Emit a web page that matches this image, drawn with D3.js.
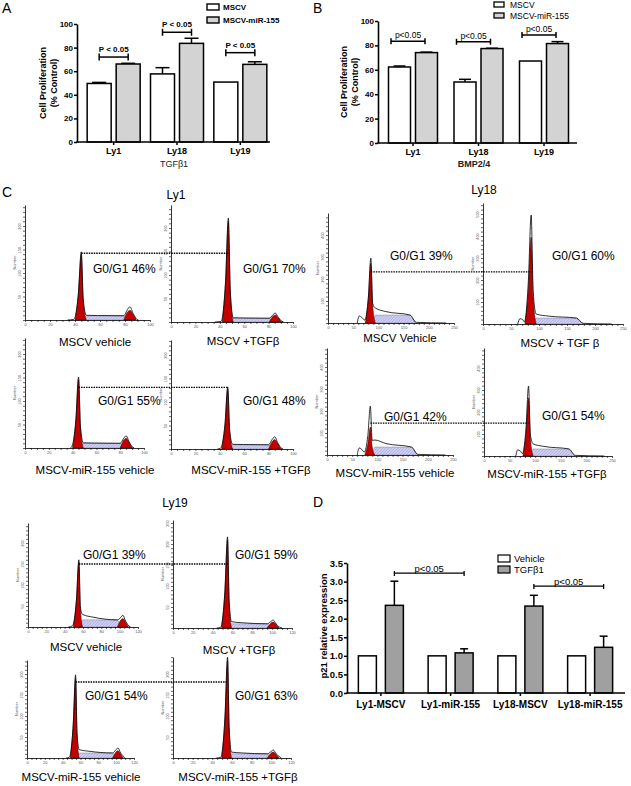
<!DOCTYPE html>
<html><head><meta charset="utf-8">
<script src="https://cdn.jsdelivr.net/npm/d3@7"></script>
<style>
body{margin:0;background:#fff;}
svg{display:block;font-family:"Liberation Sans",Arial,Helvetica,sans-serif;}
</style></head><body>
<svg id="fig" width="631" height="786"></svg>
<script>
// ================= DATA =================
// Panel A (TGFβ1)
const aCategories = ["Ly1", "Ly18", "Ly19"];
const aMSCV = [49.6, 57.7, 50.8];
const aMSCVErr = [0.9, 5.3, 0];
const aMiR = [66.1, 83.6, 65.8];
const aMiRErr = [0.6, 4.3, 2.2];
const aTicks = [0, 20, 40, 60, 80, 100];
const aSigLevel = [72, 93, 75.7];
const aSigText = ["P < 0.05", "P < 0.05", "P < 0.05"];
const aLegend = ["MSCV", "MSCV-miR-155"];
const aXTitle = "TGFβ1";
const abYTitle = ["Cell Proliferation", "(% Control)"];

// Panel B (BMP2/4)
const bCategories = ["Ly1", "Ly18", "Ly19"];
const bMSCV = [62.3, 50.0, 67.2];
const bMSCVErr = [0.8, 2.2, 0];
const bMiR = [74.1, 77.4, 81.5];
const bMiRErr = [0.4, 0.3, 1.6];
const bTicks = [0, 20, 40, 60, 80, 100];
const bSigLevel = [83.4, 83, 88.5];
const bSigText = ["p<0.05", "p<0.05", "p<0.05"];
const bLegend = ["MSCV", "MSCV-miR-155"];
const bXTitle = "BMP2/4";

// Panel D (p21)
const dCategories = ["Ly1-MSCV", "Ly1-miR-155", "Ly18-MSCV", "Ly18-miR-155"];
const dVehicle = [1, 1, 1, 1];
const dVehicleErr = [0, 0, 0, 0];
const dTGF = [2.36, 1.08, 2.34, 1.23];
const dTGFErr = [0.65, 0.11, 0.29, 0.30];
const dTicks = [0, 0.5, 1, 1.5, 2, 2.5, 3, 3.5];
const dSigPairs = [[0, 1], [2, 3]];
const dSigLevel = [3.23, 2.88];
const dSigText = ["p<0.05", "p<0.05"];
const dLegend = ["Vehicle", "TGFβ1"];
const dYTitle = "p21 relative expression";

// Panel C (cell-cycle histograms)
const cLines = ["Ly1", "Ly18", "Ly19"];
const histLine = ["Ly1","Ly1","Ly1","Ly1","Ly18","Ly18","Ly18","Ly18","Ly19","Ly19","Ly19","Ly19"];
const histCaption = ["MSCV vehicle","MSCV +TGFβ","MSCV-miR-155 vehicle","MSCV-miR-155 +TGFβ",
  "MSCV Vehicle","MSCV + TGF β","MSCV-miR-155 vehicle","MSCV-miR-155 +TGFβ",
  "MSCV vehicle","MSCV +TGFβ","MSCV-miR-155 vehicle","MSCV-miR-155 +TGFβ"];
const histG1Text = ["G0/G1 46%","G0/G1 70%","G0/G1 55%","G0/G1 48%",
  "G0/G1 39%","G0/G1 60%","G0/G1 42%","G0/G1 54%",
  "G0/G1 39%","G0/G1 59%","G0/G1 54%","G0/G1 63%"];
const histXMax   = [100,100,100,100, 250,250,250,250, 120,120,120,120];
const histG1X    = [45,47,45,46.5, 85,86,86,87, 55.5,55,54.5,55.5];
const histG1H    = [145,221,151,132, 295,495,222,318, 160,217,198,240];
const histG1Red  = [140,214,145,128, 270,395,127,264, 155,210,190,232];
const histG1Left = [5,5,5,5, 11,11,11,11, 6,6,6,6];
const histG1Right= [4,4,4,4, 9,9,9,9, 4,4,4,4];
const histShoulder=[10,9,11,10, 68,45,68,55, 30,15,20,14];
const histSLevel = [9,8,10,9, 36,27,36,32, 17,10,12,10];
const histSEnd   = [80,81,80,80, 163,167,168,166, 97,95,96,96];
const histG2X    = [84,85.5,85,85, 0,0,0,0, 103.5,101,102,102];
const histG2H    = [28,19,26,26, 0,0,0,0, 28,19,24,19];
const histG2Red  = [21,15,21,20, 0,0,0,0, 20,14,17,14];
const histG2W    = [5,5,5,5, 0,0,0,0, 6,6,6,6];
const histStart  = [34,36,38,38, 58,62,60,62, 44,44,44,44];
const histEnd    = [90,91,90,90, 235,230,235,235, 112,110,110,110];
const histDebris = [0,0,0,0, 32,24,32,28, 0,0,0,0];
// dotted comparison line: [left hist, right hist, level in left hist's units]
const dotPairs = [[0,1],[2,3],[4,5],[6,7],[8,9],[10,11]];
const dotLevel = [142, 129, 232, 145, 150, 181];

// ================= LAYOUT =================
const svg = d3.select("#fig");
svg.append("rect").attr("width",631).attr("height",786).attr("fill","#fff");
const defs = svg.append("defs");
const pat = defs.append("pattern").attr("id","lav").attr("width",3).attr("height",3).attr("patternUnits","userSpaceOnUse");
pat.append("rect").attr("width",3).attr("height",3).attr("fill","#cdcdf2");
pat.append("path").attr("d","M0,3L3,0").attr("stroke","#a5a5dc").attr("stroke-width",0.6);

function txt(x, y, s, size, weight, anchor, fill) {
  return svg.append("text").attr("x", x).attr("y", y).text(s)
    .attr("font-size", size).attr("font-weight", weight || "normal")
    .attr("text-anchor", anchor || "start").attr("fill", fill || "#000");
}

function barPanel(o) {
  const g = svg.append("g");
  const y = d3.scaleLinear().domain(o.yDomain).range([o.yBottom, o.yTop]);
  const x = d3.scaleBand().domain(o.cats).range(o.bandRange);
  const cx = c => x(c) + x.bandwidth() / 2;
  o.series.forEach((s, si) => {
    s.values.forEach((v, i) => {
      const c = cx(o.cats[i]);
      const bx = si === 0 ? c - o.gap / 2 - o.barW : c + o.gap / 2;
      const mx = bx + o.barW / 2;
      if (s.err[i] > 0) {
        g.append("line").attr("x1", mx).attr("x2", mx).attr("y1", y(v)).attr("y2", y(v + s.err[i]))
          .attr("stroke", "#000").attr("stroke-width", 1.5);
        g.append("line").attr("x1", mx - o.capW / 2).attr("x2", mx + o.capW / 2)
          .attr("y1", y(v + s.err[i])).attr("y2", y(v + s.err[i]))
          .attr("stroke", "#000").attr("stroke-width", 1.5);
      }
      g.append("rect").attr("x", bx).attr("y", y(v)).attr("width", o.barW).attr("height", y(0) - y(v))
        .attr("fill", s.fill).attr("stroke", "#000").attr("stroke-width", 1.5);
    });
  });
  // y axis
  const ya = g.append("g").attr("transform", `translate(${o.axisX},0)`)
    .call(d3.axisLeft(y).tickValues(o.ticks).tickSize(3).tickSizeOuter(0).tickPadding(1).tickFormat(o.fmt));
  ya.select(".domain").attr("stroke-width", 1.6);
  ya.selectAll(".tick line").attr("stroke-width", 1.5);
  ya.selectAll(".tick text").attr("font-size", o.yTickSize).attr("font-weight", "bold")
    .attr("font-family", '"Liberation Sans",Arial,sans-serif').attr("fill", "#000");
  // x axis
  const xa = g.append("g").attr("transform", `translate(0,${o.yBottom})`)
    .call(d3.axisBottom(x).tickSize(3).tickSizeOuter(0).tickPadding(o.xPad));
  xa.select(".domain").remove();
  xa.selectAll(".tick line").attr("stroke-width", 1.5);
  xa.selectAll(".tick text").attr("font-size", o.xTickSize).attr("font-weight", "bold")
    .attr("font-family", '"Liberation Sans",Arial,sans-serif').attr("fill", "#000");
  g.append("line").attr("x1", o.axisX - 0.8).attr("x2", o.xEnd).attr("y1", o.yBottom).attr("y2", o.yBottom)
    .attr("stroke", "#000").attr("stroke-width", 1.6);
  return { x, y, cx, g };
}

function bracket(x1, x2, yy, sw, h) {
  svg.append("line").attr("x1", x1).attr("x2", x2).attr("y1", yy).attr("y2", yy).attr("stroke", "#000").attr("stroke-width", sw);
  [x1, x2].forEach(xx => svg.append("line").attr("x1", xx).attr("x2", xx).attr("y1", yy - h[0]).attr("y2", yy + h[1])
    .attr("stroke", "#000").attr("stroke-width", sw));
}

// ---------- Panel A ----------
txt(2, 13, "A", 14);
{
  const P = barPanel({
    cats: aCategories, yDomain: [0, 100], yBottom: 142, yTop: 24, bandRange: [82, 272],
    axisX: 77, xEnd: 270, ticks: aTicks, fmt: d3.format("d"), yTickSize: 8, xTickSize: 9, xPad: 3,
    barW: 24, gap: 5, capW: 14,
    series: [{ values: aMSCV, err: aMSCVErr, fill: "#fff" }, { values: aMiR, err: aMiRErr, fill: "#d3d3d3" }]
  });
  aCategories.forEach((c, i) => {
    const cc = P.cx(c), yy = P.y(aSigLevel[i]);
    bracket(cc - 14.5, cc + 14.5, yy, 1.5, [3.5, 3.5]);
    txt(cc, yy - 5, aSigText[i], 8, "bold", "middle");
  });
  const fills = ["#fff", "#d3d3d3"];
  aLegend.forEach((s, i) => {
    svg.append("rect").attr("x", 207).attr("y", 4 + i * 13).attr("width", 12).attr("height", 6)
      .attr("fill", fills[i]).attr("stroke", "#000").attr("stroke-width", 1.4);
    txt(223, 10 + i * 13, s, 8, "bold");
  });
  [0, 1].forEach(k => svg.append("text").attr("transform", `translate(${43 + k * 10.5},83) rotate(-90)`)
    .attr("text-anchor", "middle").attr("dominant-baseline", "central").attr("font-size", 9).attr("font-weight", "bold").text(abYTitle[k]));
  txt(174, 167, aXTitle, 9, "normal", "middle", "#222");
}

// ---------- Panel B ----------
txt(313, 13, "B", 14);
{
  const P = barPanel({
    cats: bCategories, yDomain: [0, 100], yBottom: 143, yTop: 21, bandRange: [380.25, 576.75],
    axisX: 378, xEnd: 577, ticks: bTicks, fmt: d3.format("d"), yTickSize: 8, xTickSize: 9, xPad: 3,
    barW: 22, gap: 5, capW: 12,
    series: [{ values: bMSCV, err: bMSCVErr, fill: "#fff" }, { values: bMiR, err: bMiRErr, fill: "#d3d3d3" }]
  });
  bCategories.forEach((c, i) => {
    const cc = P.cx(c), yy = P.y(bSigLevel[i]);
    bracket(cc - 22, cc + 12, yy, 1.5, [3, 3]);
    txt(cc - 5, yy - 3, bSigText[i], 8.5, "normal", "middle");
  });
  const fills = ["#fff", "#d3d3d3"];
  bLegend.forEach((s, i) => {
    svg.append("rect").attr("x", 494).attr("y", 2 + i * 11).attr("width", 10).attr("height", 5)
      .attr("fill", fills[i]).attr("stroke", "#000").attr("stroke-width", 1.3);
    txt(510, 7.5 + i * 11, s, 8.5, "normal");
  });
  [0, 1].forEach(k => svg.append("text").attr("transform", `translate(${344 + k * 10.5},82) rotate(-90)`)
    .attr("text-anchor", "middle").attr("dominant-baseline", "central").attr("font-size", 9).attr("font-weight", "bold").text(abYTitle[k]));
  txt(474, 167, bXTitle, 9, "bold", "middle", "#222");
}

// ---------- Panel D ----------
txt(313, 507, "D", 14);
{
  const P = barPanel({
    cats: dCategories, yDomain: [0, 3.5], yBottom: 693, yTop: 563, bandRange: [346, 625],
    axisX: 347, xEnd: 625, ticks: dTicks, fmt: d3.format(".1f"), yTickSize: 9.5, xTickSize: 10, xPad: 5,
    barW: 18, gap: 9, capW: 8,
    series: [{ values: dVehicle, err: dVehicleErr, fill: "#fff" }, { values: dTGF, err: dTGFErr, fill: "#a0a0a0" }]
  });
  dSigPairs.forEach((pr, i) => {
    const x1 = P.cx(dCategories[pr[0]]) + 13.5, x2 = P.cx(dCategories[pr[1]]) + 13.5, yy = P.y(dSigLevel[i]);
    bracket(x1, x2, yy, 1.3, [2, 3]);
    txt((x1 + x2) / 2, yy - 1.5, dSigText[i], 9.5, "normal", "middle");
  });
  const fills = ["#fff", "#a0a0a0"];
  dLegend.forEach((s, i) => {
    svg.append("rect").attr("x", 498).attr("y", 555 + i * 11).attr("width", 12).attr("height", 7)
      .attr("fill", fills[i]).attr("stroke", "#000").attr("stroke-width", 1.2);
    txt(514, 562 + i * 11, s, 9.5, "normal");
  });
  svg.append("text").attr("transform", `translate(323,626) rotate(-90)`)
    .attr("text-anchor", "middle").attr("dominant-baseline", "central").attr("font-size", 9.5).attr("font-weight", "bold").text(dYTitle);
}

// ---------- Panel C ----------
txt(2, 197, "C", 14);
const groupCfg = {
  Ly1:  { ppu: 0.47, xMinor: 5,  xMajor: 20, yMinor: 10, yMajor: 50 },
  Ly18: { ppu: 0.22, xMinor: 10, xMajor: 50, yMinor: 20, yMajor: 100 },
  Ly19: { ppu: 0.42, xMinor: 5,  xMajor: 20, yMinor: 10, yMajor: 50 }
};
const titlePos = { Ly1: [176, 199], Ly18: [484, 194], Ly19: [175, 507] };
const histLayout = [
  { ox: 25,  oy: 320, w: 125, h: 115, tx: 93,  ty: 273, cx: 95,  cy: 346 },
  { ox: 171, oy: 322, w: 122, h: 117, tx: 243, ty: 273, cx: 243, cy: 345 },
  { ox: 25,  oy: 448, w: 119, h: 110, tx: 98,  ty: 405, cx: 95,  cy: 474 },
  { ox: 171, oy: 449, w: 122, h: 109, tx: 243, ty: 405, cx: 251, cy: 474 },
  { ox: 328, oy: 323, w: 126, h: 110, tx: 390, ty: 260, cx: 400, cy: 342 },
  { ox: 483, oy: 324, w: 140, h: 121, tx: 552, ty: 260, cx: 560, cy: 347 },
  { ox: 327, oy: 455, w: 126, h: 107, tx: 384, ty: 421, cx: 395, cy: 477 },
  { ox: 484, oy: 456, w: 128, h: 108, tx: 542, ty: 420, cx: 547, cy: 478 },
  { ox: 28,  oy: 627, w: 110, h: 104, tx: 83,  ty: 559, cx: 86,  cy: 651 },
  { ox: 173, oy: 628, w: 119, h: 108, tx: 235, ty: 559, cx: 239, cy: 654 },
  { ox: 27,  oy: 758, w: 107, h: 98,  tx: 85,  ty: 700, cx: 81,  cy: 781 },
  { ox: 173, oy: 758, w: 118, h: 101, tx: 235, ty: 700, cx: 238, cy: 781 }
];
cLines.forEach(l => txt(titlePos[l][0], titlePos[l][1], l, 12, "normal", "middle"));

const scales = [];
histLine.forEach((grp, i) => {
  const L = histLayout[i], cfg = groupCfg[grp];
  const xMax = histXMax[i], yMax = L.h / cfg.ppu;
  const x = d3.scaleLinear().domain([0, xMax]).range([L.ox, L.ox + L.w]);
  const y = d3.scaleLinear().domain([0, yMax]).range([L.oy, L.oy - L.h]);
  scales.push({ x, y });
  const g = svg.append("g");
  const wl = histG1Left[i], wr = histG1Right[i];
  const g1x = histG1X[i], g1h = histG1H[i], g1r = histG1Red[i];
  const s = histSLevel[i], sh = histShoulder[i], sEnd = histSEnd[i];
  const g2x = histG2X[i], g2h = histG2H[i], g2r = histG2Red[i], g2w = histG2W[i];
  const start = histStart[i], end = histEnd[i], deb = histDebris[i];

  const areaM = d3.area().x(d => x(d[0])).y0(y(0)).y1(d => y(d[1])).curve(d3.curveMonotoneX);
  const areaL = d3.area().x(d => x(d[0])).y0(y(0)).y1(d => y(d[1]));
  const lineM = d3.line().x(d => x(d[0])).y(d => y(d[1])).curve(d3.curveMonotoneX);

  // S phase
  const sPts = g2h > 0 ? [[g1x, 0], [g1x + wr, s], [g2x - g2w, s], [g2x, 0]]
                       : [[g1x, 0], [g1x + wr, s], [sEnd, s], [sEnd + 12, 0]];
  g.append("path").attr("d", areaL(sPts)).attr("fill", "url(#lav)").attr("stroke", "#6a6a9a").attr("stroke-width", 0.4);
  // G1 peak
  const r1 = [[g1x - wl, 0], [g1x - wl * 0.45, g1r * 0.4], [g1x, g1r], [g1x + wr * 0.4, g1r * 0.3], [g1x + wr, 0]];
  g.append("path").attr("d", areaM(r1)).attr("fill", "#c40000").attr("stroke", "#300").attr("stroke-width", 0.5);
  // G2 peak
  if (g2h > 0) {
    const r2 = [[g2x - g2w, 0], [g2x - g2w * 0.4, g2r * 0.8], [g2x, g2r], [g2x + g2w * 0.5, g2r * 0.55], [g2x + g2w, 0]];
    g.append("path").attr("d", areaM(r2)).attr("fill", "#c40000").attr("stroke", "#300").attr("stroke-width", 0.5);
  }
  // outline
  const pts = [[start, 0]];
  if (deb > 0) pts.push([start + 4, deb], [start + 9, deb * 0.8], [g1x - wl - 1, deb * 0.4]);
  else pts.push([g1x - wl - 1, Math.max(1, s * 0.15)]);
  pts.push([g1x - wl * 0.45, g1h * 0.4], [g1x, g1h], [g1x + wr * 0.4, g1h * 0.3], [g1x + wr, sh]);
  const tail = g2h > 0 ? g2x - g2w : sEnd;
  pts.push([g1x + wr + (tail - g1x - wr) * 0.3, (sh + s) / 2], [tail, s]);
  if (g2h > 0) pts.push([g2x - g2w * 0.4, g2h * 0.8], [g2x, g2h], [g2x + g2w * 0.5, g2h * 0.5], [g2x + g2w * 1.3, 0.5], [end, 0]);
  else pts.push([sEnd + 12, 3], [end, 0]);
  g.append("path").attr("d", lineM(pts)).attr("fill", "none").attr("stroke", "#000").attr("stroke-width", 0.8);

  // axes
  const xa = g.append("g").attr("transform", `translate(0,${L.oy})`)
    .call(d3.axisBottom(x).tickValues(d3.range(0, xMax + 1e-6, cfg.xMinor)).tickSize(2).tickSizeOuter(0).tickPadding(1)
      .tickFormat(v => v % cfg.xMajor === 0 ? v : ""));
  xa.select(".domain").attr("stroke-width", 0.8);
  xa.selectAll(".tick line").attr("stroke-width", 0.6);
  xa.selectAll(".tick text").attr("font-size", 4).attr("fill", "#555").attr("font-family", '"Liberation Sans",Arial,sans-serif');
  const ya = g.append("g").attr("transform", `translate(${L.ox},0)`)
    .call(d3.axisLeft(y).tickValues(d3.range(0, yMax, cfg.yMinor)).tickSize(2).tickSizeOuter(0)
      .tickFormat(v => (v > 0 && v % cfg.yMajor === 0) ? v : ""));
  ya.select(".domain").attr("stroke-width", 0.8);
  ya.selectAll(".tick line").attr("stroke-width", 0.6);
  ya.selectAll(".tick text").attr("font-size", 4).attr("fill", "#555").attr("font-family", '"Liberation Sans",Arial,sans-serif')
    .attr("x", 0).attr("dy", 0).attr("text-anchor", "middle").attr("transform", "translate(-4,0) rotate(-90)");
  g.append("text").attr("transform", `translate(${L.ox - 9},${L.oy - L.h / 2}) rotate(-90)`)
    .attr("text-anchor", "middle").attr("font-size", 4).attr("fill", "#555").text("Number");

  txt(L.tx, L.ty, histG1Text[i], 12, "normal", "start");
  txt(L.cx, L.cy, histCaption[i], 11.5, "normal", "middle");
});

// dotted comparison lines
dotPairs.forEach((pr, k) => {
  const a = scales[pr[0]], b = scales[pr[1]];
  const yy = a.y(dotLevel[k]);
  svg.append("line").attr("x1", a.x(histG1X[pr[0]])).attr("x2", b.x(histG1X[pr[1]]))
    .attr("y1", yy).attr("y2", yy).attr("stroke", "#000").attr("stroke-width", 1.3).attr("stroke-dasharray", "1.5,1");
});
</script>
</body></html>
